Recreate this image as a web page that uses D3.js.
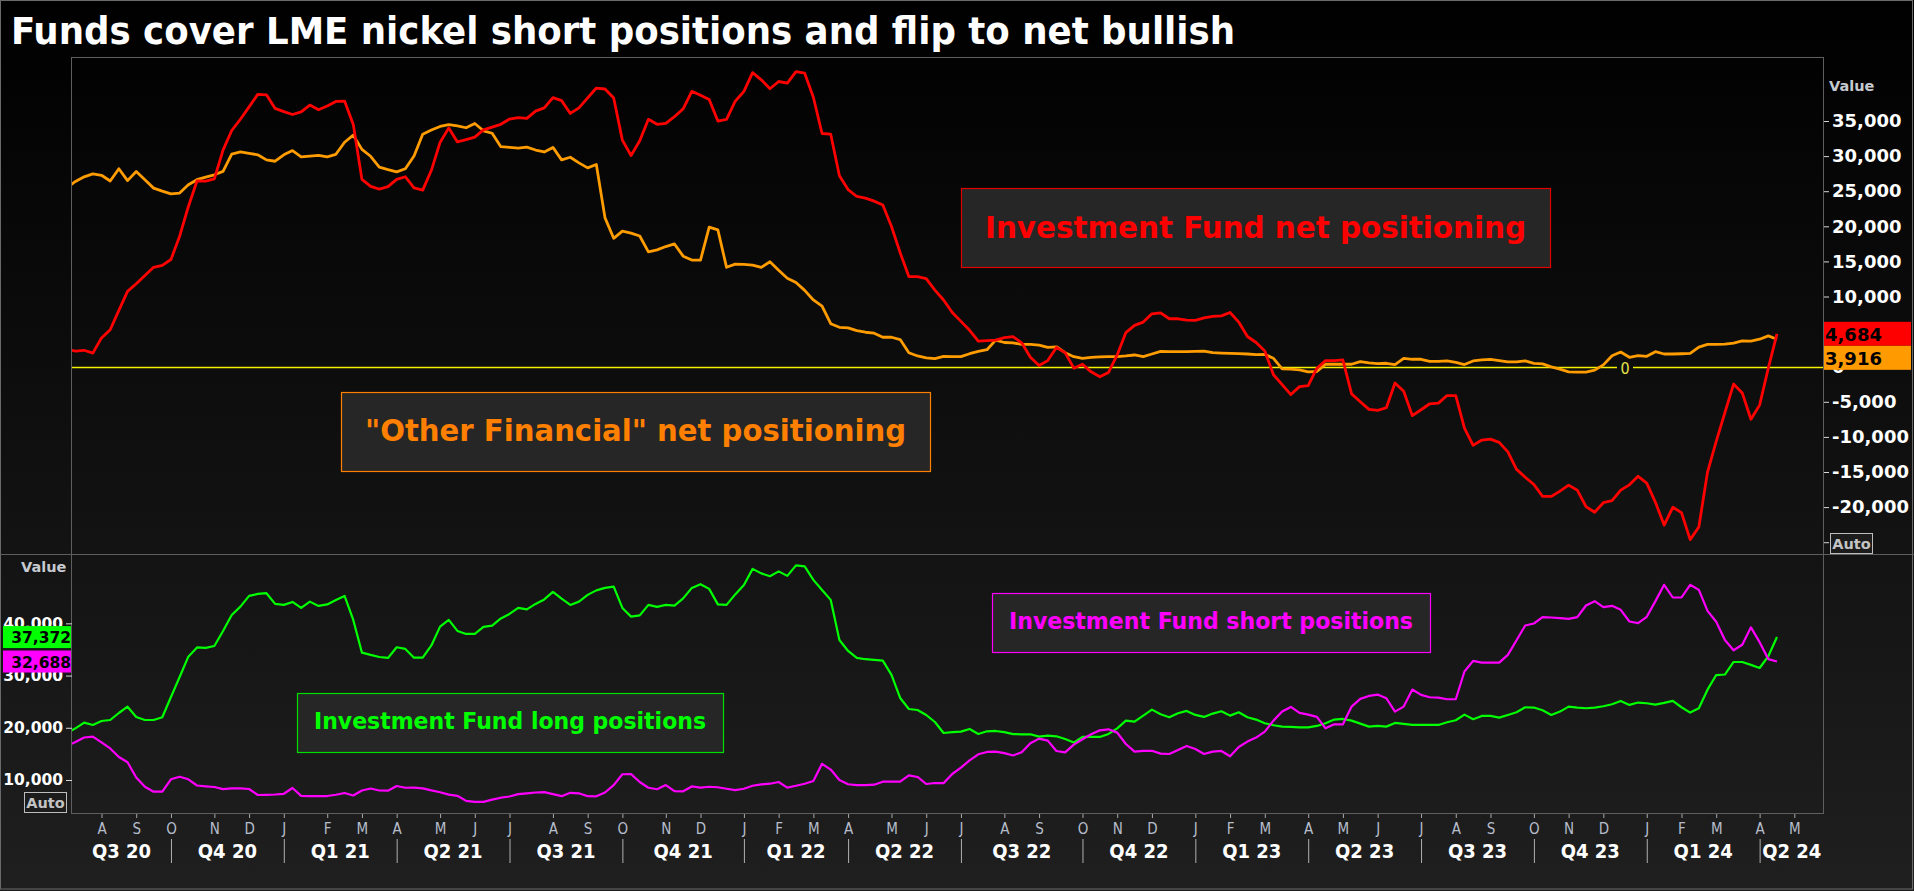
<!DOCTYPE html>
<html>
<head>
<meta charset="utf-8">
<script src="https://cdn.jsdelivr.net/npm/d3@7"></script>
<style>
  html, body { margin: 0; padding: 0; background: #000; overflow: hidden; }
  svg { display: block; }
</style>
</head>
<body>
<div id="chart"></div>
<script>
// Weekly LME nickel commitments of traders (Friday reports), first point 10 Jul 2020
const START = Date.UTC(2020, 6, 10);

// Investment Fund net positioning (lots)
const fundNet = [
  2450, 2230, 2340, 1930, 4100, 5260, 8020, 10730, 11820, 13000,
  14160, 14430, 15270, 18600, 22790, 26460, 26430, 26770, 30860, 33650,
  35250, 37010, 38800, 38730, 36800, 36340, 35930, 36300, 37270, 36610,
  37150, 37790, 37840, 34520, 26690, 25700, 25310, 25650, 26690, 27060,
  25490, 25160, 27980, 31950, 34020, 32020, 32360, 32700, 33730, 34130,
  34530, 35280, 35470, 35380, 36410, 36880, 38340, 37910, 36080, 36880,
  38290, 39700, 39560, 38290, 32280, 30080, 32190, 35240, 34530, 34670,
  35610, 36740, 39230, 38670, 38060, 35000, 35240, 37820, 39230, 41900,
  40870, 39600, 40630, 40400, 42040, 41810, 38390, 33220, 33120, 27200,
  25230, 24250, 24020, 23590, 23030, 19980, 16230, 12840, 12840, 12560,
  10920, 9500, 7720, 6460, 5190, 3640, 3730, 3780, 4150, 4300,
  3400, 1340, 160, 870, 2750, 2000, -210, 350, -730, -1430,
  -820, 1670, 4860, 5890, 6360, 7540, 7680, 6830, 6830, 6640,
  6600, 6970, 7160, 7250, 7720, 6360, 4300, 3450, 2230, -1150,
  -2560, -3970, -2840, -2700, -210, 870, 870, 960, -3870, -4980,
  -6080, -6220, -5850, -2320, -3500, -6970, -6130, -5280, -5190, -4110,
  -4110, -8750, -11200, -10450, -10310, -10780, -12140, -14630, -15750, -16780,
  -18480, -18480, -17730, -16880, -17580, -19930, -20730, -19370, -19090, -17580,
  -16830, -15610, -16590, -19320, -22560, -20030, -20780, -24630, -22840, -15000,
  -10630, -6550, -2470, -3730, -7490, -5470, -210, 4684
];

// "Other Financial" net positioning (lots)
const otherNet = [
  25490, 26390, 27050, 27480, 27270, 26460, 28200, 26510, 27800, 26620,
  25440, 25010, 24620, 24740, 25920, 26640, 27020, 27340, 27830, 30300,
  30590, 30400, 30190, 29460, 29270, 30180, 30790, 29900, 30000, 30100,
  29880, 30260, 31980, 32980, 30960, 29980, 28440, 28080, 27750, 28200,
  30020, 33120, 33720, 34230, 34490, 34320, 34040, 34650, 33610, 33260,
  31340, 31240, 31150, 31290, 30870, 30590, 31240, 29460, 29840, 29040,
  28330, 28800, 21200, 18290, 19320, 19040, 18620, 16360, 16640, 17120,
  17490, 15750, 15190, 15190, 19890, 19500, 14160, 14620, 14580, 14480,
  14160, 14950, 13730, 12610, 11990, 10870, 9510, 8620, 6130, 5610,
  5520, 5140, 4910, 4770, 4200, 4200, 3870, 1990, 1530, 1250,
  1150, 1480, 1430, 1430, 1850, 2180, 2420, 3780, 3450, 3400,
  3170, 3170, 3080, 2750, 2840, 2000, 1430, 1200, 1340, 1390,
  1430, 1430, 1530, 1670, 1430, 1810, 2180, 2140, 2140, 2140,
  2180, 2230, 2000, 1950, 1900, 1850, 1810, 1710, 1760, 1200,
  -310, -350, -450, -730, -680, 350, 350, 350, 350, 730,
  540, 450, 490, 310, 1200, 1060, 1060, 770, 770, 820,
  630, 310, 820, 960, 1060, 870, 680, 680, 820, 490,
  400, -20, -350, -730, -770, -770, -490, 260, 1570, 2090,
  1340, 1570, 1480, 2140, 1810, 1810, 1850, 1900, 2790, 3170,
  3170, 3220, 3360, 3690, 3640, 3920, 4390, 3916
];

// Investment Fund long positions (lots)
const fundLong = [
  19000, 19900, 20980, 20540, 21300, 21490, 22830, 24040, 22070, 21490,
  21490, 22010, 25900, 29730, 33620, 35380, 35290, 35670, 38540, 41600,
  43200, 45250, 45630, 45770, 43720, 43530, 44100, 42950, 44160, 43330,
  43620, 44480, 45250, 40650, 34390, 33950, 33560, 33370, 35420, 35100,
  33430, 33430, 35770, 39370, 40660, 38550, 37970, 37970, 39310, 39560,
  40940, 41800, 42950, 42670, 43720, 44580, 46020, 44740, 43530, 44160,
  45450, 46310, 46790, 47040, 42950, 41290, 41520, 43530, 43150, 43530,
  43400, 44780, 46790, 47500, 46600, 43630, 43530, 45540, 47360, 50430,
  49570, 49030, 49950, 49090, 51100, 50900, 48320, 46400, 44490, 36820,
  34710, 33380, 33130, 32990, 32860, 30120, 25710, 23600, 23410, 22450,
  21110, 19000, 19170, 19270, 19780, 18820, 19330, 19390, 19170, 18790,
  18750, 18750, 18310, 18500, 18370, 17860, 17160, 18240, 18240, 18240,
  18820, 19900, 21370, 21180, 22330, 23480, 22590, 22010, 22780, 23230,
  22460, 22080, 22720, 23160, 22330, 22970, 22010, 21570, 20860, 20480,
  20220, 20160, 20090, 20090, 20350, 20860, 21570, 21690, 21370, 20800,
  20220, 20350, 20220, 20930, 20740, 20540, 20540, 20540, 20540, 21050,
  21440, 22520, 21630, 22270, 22270, 21950, 22460, 22970, 23930, 23870,
  23360, 22460, 23100, 24060, 23870, 23740, 23870, 24120, 24510, 25140,
  24380, 24830, 24700, 24440, 24760, 25140, 23930, 22910, 23740, 27300,
  30100, 30200, 32600, 32600, 32040, 31450, 33700, 37372
];

// Investment Fund short positions (lots)
const fundShort = [
  16510, 17280, 18140, 18300, 17190, 16040, 14410, 13390, 10480, 8720,
  7760, 7760, 10130, 10630, 10130, 8950, 8790, 8660, 8240, 8390,
  8410, 8280, 7130, 7170, 7220, 7360, 8470, 6970, 6930, 6930,
  6930, 7170, 7510, 7030, 7990, 8370, 7990, 7950, 8850, 8520,
  8550, 8390, 8000, 7650, 7190, 6970, 6000, 5810, 5810, 6230,
  6610, 6840, 7290, 7450, 7610, 7680, 7290, 6900, 7550, 7450,
  6900, 6870, 7610, 9030, 11100, 11130, 9610, 8520, 8230, 9030,
  7870, 7840, 8770, 8550, 8710, 8610, 8320, 8060, 8320, 8900,
  9160, 9290, 9610, 8550, 8900, 9290, 9810, 13100, 12000, 10000,
  9190, 9030, 9030, 9100, 9680, 9680, 9680, 10900, 10580, 9230,
  9420, 9400, 11150, 12360, 13770, 14920, 15370, 15430, 15140, 14700,
  15300, 17030, 17920, 17540, 15560, 15300, 16770, 17800, 18750, 19520,
  19710, 19070, 16900, 15430, 15560, 15590, 15050, 14980, 15750, 16520,
  15940, 14980, 15430, 15560, 14540, 16330, 17350, 18120, 19270, 21370,
  23100, 23990, 22840, 22520, 22080, 19900, 20670, 20670, 24060, 25530,
  26100, 26360, 25660, 23100, 24060, 27320, 26290, 25850, 25780, 25460,
  25460, 30770, 32810, 32490, 32490, 32490, 33960, 36770, 39590, 39970,
  41180, 41120, 40990, 40860, 41180, 43420, 44250, 43100, 43360, 42590,
  40350, 40030, 41250, 44250, 47380, 44950, 44950, 47380, 46400, 42400,
  40300, 36800, 34850, 35900, 39230, 36400, 33150, 32688
];

const topTicks = [-25000, -20000, -15000, -10000, -5000, 0, 5000, 10000, 15000, 20000, 25000, 30000, 35000];
const bottomTicks = [10000, 20000, 30000, 40000];
const monthLetters = ["J", "F", "M", "A", "M", "J", "J", "A", "S", "O", "N", "D"];
const TITLE = "Funds cover LME nickel short positions and flip to net bullish";

(function () {
  "use strict";

  const W = 1914, H = 891;
  const COND = "'DejaVu Sans Condensed', 'DejaVu Sans', sans-serif";
  const WIDE = "'DejaVu Sans', Verdana, sans-serif";
  const L = 72, R = 1824, T1 = 57, B1 = 554, B2 = 813;

  const RED = "#ff0000", ORANGE = "#ff9c00", GREEN = "#00ff00", MAGENTA = "#ff00ff";

  const svg = d3.select("#chart").append("svg").attr("width", W).attr("height", H);
  const defs = svg.append("defs");

  // dark vertical wash, black at the top
  const bg = defs.append("linearGradient").attr("id", "bg")
    .attr("x1", 0).attr("x2", 0).attr("y1", 0).attr("y2", 1);
  bg.append("stop").attr("offset", "0%").attr("stop-color", "#000");
  bg.append("stop").attr("offset", "100%").attr("stop-color", "#1f1f1f");
  svg.append("rect").attr("width", W).attr("height", H).attr("fill", "url(#bg)");

  defs.append("clipPath").attr("id", "clipTop").append("rect")
    .attr("x", L).attr("y", T1).attr("width", R - L).attr("height", B1 - T1);
  defs.append("clipPath").attr("id", "clipBot").append("rect")
    .attr("x", L).attr("y", B1).attr("width", R - L).attr("height", B2 - B1);

  const dates = fundNet.map((_, i) => new Date(START + i * 7 * 864e5));

  // weekly spacing; axis runs a few weeks either side of the data
  const x = d3.scaleUtc()
    .domain([new Date(Date.UTC(2020, 6, 14, 5)), new Date(Date.UTC(2024, 4, 26, 22))])
    .range([L, R]);
  const yTop = d3.scaleLinear().domain([-26680, 44120]).range([B1, T1]);
  const yBot = d3.scaleLinear().domain([3680, 53280]).range([B2, B1]);

  // title
  svg.append("text").attr("x", 11).attr("y", 43.5)
    .attr("fill", "#fff").attr("font-family", COND).attr("font-weight", "bold")
    .attr("font-size", 37).attr("textLength", 1224).attr("lengthAdjust", "spacingAndGlyphs")
    .text(TITLE);

  // frame lines
  const frame = svg.append("g").attr("stroke", "#5e5e5e").attr("stroke-width", 1).attr("fill", "none");
  frame.append("rect").attr("x", 0.5).attr("y", 0.5).attr("width", W - 2).attr("height", H - 2.5).attr("stroke", "#6a6a6a");
  frame.append("line").attr("x1", 0).attr("x2", W).attr("y1", B1 + 0.5).attr("y2", B1 + 0.5);
  frame.append("line").attr("x1", L - 1).attr("x2", R).attr("y1", T1 + 0.5).attr("y2", T1 + 0.5);
  frame.append("line").attr("x1", L - 0.5).attr("x2", L - 0.5).attr("y1", T1).attr("y2", B2);
  frame.append("line").attr("x1", R - 0.5).attr("x2", R - 0.5).attr("y1", T1).attr("y2", B2);
  frame.append("line").attr("x1", L - 1).attr("x2", R).attr("y1", B2 + 0.5).attr("y2", B2 + 0.5);

  // zero line with its label
  const y0 = Math.round(yTop(0)) + 0.5;
  const zg = svg.append("g").attr("stroke", "#f2f200").attr("stroke-width", 1.4);
  zg.append("line").attr("x1", L).attr("x2", 1617).attr("y1", y0).attr("y2", y0);
  zg.append("line").attr("x1", 1633).attr("x2", R - 1).attr("y1", y0).attr("y2", y0);
  svg.append("text").attr("x", 1625).attr("y", y0 + 6).attr("text-anchor", "middle")
    .attr("fill", "#e4e44a").attr("font-family", COND).attr("font-size", 16).text("0");

  // series
  const lineTop = v => d3.line().x((d, i) => x(dates[i])).y(d => yTop(d))(v);
  const lineBot = v => d3.line().x((d, i) => x(dates[i])).y(d => yBot(d))(v);

  const gTop = svg.append("g").attr("clip-path", "url(#clipTop)").attr("fill", "none")
    .attr("stroke-width", 2.8).attr("stroke-linejoin", "round");
  gTop.append("path").attr("d", lineTop(otherNet)).attr("stroke", ORANGE);
  gTop.append("path").attr("d", lineTop(fundNet)).attr("stroke", RED);

  const gBot = svg.append("g").attr("clip-path", "url(#clipBot)").attr("fill", "none")
    .attr("stroke-width", 2.2).attr("stroke-linejoin", "round");
  gBot.append("path").attr("d", lineBot(fundLong)).attr("stroke", GREEN);
  gBot.append("path").attr("d", lineBot(fundShort)).attr("stroke", MAGENTA);

  // right axis, top panel (plain hyphen for negatives, as in the terminal chart)
  const fmt = v => d3.format(",")(v).replace("\u2212", "-");
  const gR = svg.append("g").attr("transform", `translate(${R},0)`)
    .call(d3.axisRight(yTop).tickValues(topTicks).tickSize(5).tickPadding(3)
      .tickFormat(d => d === -25000 ? "" : fmt(d)));
  gR.select(".domain").remove();
  gR.selectAll("line").attr("stroke", "#d8d8d8");
  gR.selectAll("text").attr("fill", "#fff").attr("font-family", WIDE)
    .attr("font-weight", "bold").attr("font-size", 18);

  svg.append("text").attr("x", 1829).attr("y", 90.5).attr("fill", "#c6c9d0")
    .attr("font-family", WIDE).attr("font-weight", "bold").attr("font-size", 14.5).text("Value");

  // left axis, bottom panel
  const gL = svg.append("g").attr("transform", `translate(${L},0)`)
    .call(d3.axisLeft(yBot).tickValues(bottomTicks).tickSize(6).tickPadding(3).tickFormat(fmt));
  gL.select(".domain").remove();
  gL.selectAll("line").attr("stroke", "#d8d8d8");
  gL.selectAll("text").attr("fill", "#fff").attr("font-family", WIDE)
    .attr("font-weight", "bold").attr("font-size", 15.5);

  svg.append("text").attr("x", 21).attr("y", 571.5).attr("fill", "#c6c9d0")
    .attr("font-family", WIDE).attr("font-weight", "bold").attr("font-size", 14.5).text("Value");

  // "Auto" buttons
  function autoBox(bx, by) {
    svg.append("rect").attr("x", bx + 0.5).attr("y", by + 0.5).attr("width", 42).attr("height", 20)
      .attr("fill", "#1c1c1c").attr("stroke", "#bdbdbd");
    svg.append("text").attr("x", bx + 21.5).attr("y", by + 16).attr("text-anchor", "middle")
      .attr("fill", "#c4c4c4").attr("font-family", WIDE).attr("font-weight", "bold")
      .attr("font-size", 14.5).text("Auto");
  }
  autoBox(1830, 533);
  autoBox(24, 792);

  // last-value badges
  const lastNet = fundNet[fundNet.length - 1], lastOther = otherNet[otherNet.length - 1];
  const redTop = yTop(lastNet) - 12;
  const badges = [
    { y: redTop, h: 24, fill: RED, v: lastNet },
    { y: redTop + 24, h: 24, fill: "#ff9a00", v: lastOther }
  ];
  badges.forEach(b => {
    svg.append("rect").attr("x", R).attr("y", b.y).attr("width", 87).attr("height", b.h).attr("fill", b.fill);
    svg.append("text").attr("x", R + 1).attr("y", b.y + 19).attr("fill", "#000")
      .attr("font-family", WIDE).attr("font-weight", "bold").attr("font-size", 18).text(fmt(b.v));
  });

  const lastLong = fundLong[fundLong.length - 1], lastShort = fundShort[fundShort.length - 1];
  [{ v: lastLong, fill: GREEN }, { v: lastShort, fill: MAGENTA }].forEach(b => {
    const cy = yBot(b.v);
    svg.append("rect").attr("x", 3).attr("y", cy - 11).attr("width", L - 4).attr("height", 22).attr("fill", b.fill);
    svg.append("text").attr("x", L - 1).attr("y", cy + 6).attr("text-anchor", "end").attr("fill", "#000")
      .attr("font-family", WIDE).attr("font-weight", "bold").attr("font-size", 15.5).text(fmt(b.v));
  });

  // month ticks: first weekly report of each month
  const months = d3.utcMonth.range(new Date(Date.UTC(2020, 6, 1)), new Date(Date.UTC(2024, 5, 1)));
  const gx = svg.append("g");
  months.forEach(m => {
    const px = x(d3.utcFriday.ceil(m));
    if (px < L || px > R) return;
    gx.append("line").attr("x1", px + 0.5).attr("x2", px + 0.5).attr("y1", B2 + 1).attr("y2", B2 + 5)
      .attr("stroke", "#a8a8a8");
    gx.append("text").attr("x", px + 0.5).attr("y", 834).attr("text-anchor", "middle")
      .attr("fill", "#b6bdcc").attr("font-family", COND).attr("font-size", 15)
      .text(monthLetters[m.getUTCMonth()]);
  });

  // quarter bands
  const quarters = months.filter(m => m.getUTCMonth() % 3 === 0);
  const qx = quarters.map(q => x(d3.utcFriday.ceil(q)));
  quarters.forEach((q, i) => {
    const a = Math.max(L, qx[i]);
    const b = i + 1 < quarters.length ? qx[i + 1] : R;
    if (a >= R) return;
    if (qx[i] >= L) {
      gx.append("line").attr("x1", qx[i] + 0.5).attr("x2", qx[i] + 0.5).attr("y1", 839).attr("y2", 863)
        .attr("stroke", "#b0b0b0");
    }
    const label = "Q" + (Math.floor(q.getUTCMonth() / 3) + 1) + " " + String(q.getUTCFullYear()).slice(2);
    gx.append("text").attr("x", (a + b) / 2).attr("y", 857.5).attr("text-anchor", "middle")
      .attr("fill", "#fff").attr("font-family", COND).attr("font-weight", "bold").attr("font-size", 20)
      .text(label);
  });

  // annotation boxes
  const notes = [
    { x0: 961, y0: 188, x1: 1550, y1: 267, tx: 985, ty: 237.5, tw: 541, fs: 31, color: RED, border: "#e00000",
      text: "Investment Fund net positioning" },
    { x0: 341, y0: 392, x1: 930, y1: 471, tx: 365, ty: 440.5, tw: 541, fs: 31, color: "#ff8000", border: "#ff8000",
      text: "\"Other Financial\" net positioning" },
    { x0: 992, y0: 593, x1: 1430, y1: 652, tx: 1009, ty: 629, tw: 404, fs: 23, color: MAGENTA, border: MAGENTA,
      text: "Investment Fund short positions" },
    { x0: 297, y0: 693, x1: 723, y1: 752, tx: 314, ty: 729, tw: 392, fs: 23, color: GREEN, border: "#00e000",
      text: "Investment Fund long positions" }
  ];
  notes.forEach(n => {
    svg.append("rect").attr("x", n.x0 + 0.5).attr("y", n.y0 + 0.5)
      .attr("width", n.x1 - n.x0).attr("height", n.y1 - n.y0)
      .attr("fill", "#262626").attr("stroke", n.border).attr("stroke-width", 1.2);
    svg.append("text").attr("x", n.tx).attr("y", n.ty).attr("fill", n.color)
      .attr("font-family", COND).attr("font-weight", "bold").attr("font-size", n.fs)
      .attr("textLength", n.tw).attr("lengthAdjust", "spacingAndGlyphs").text(n.text);
  });
})();
</script>
</body>
</html>
